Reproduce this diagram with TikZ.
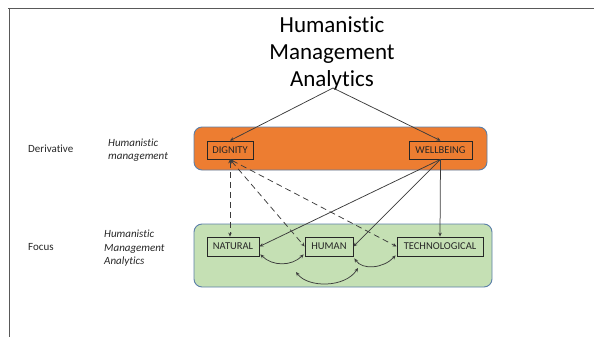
\documentclass[tikz,border=0pt]{standalone}
\usepackage{fontspec}
\setmainfont{Carlito}[Ligatures={NoCommon}]
\usetikzlibrary{arrows.meta,calc}
\definecolor{orangefill}{HTML}{ED7D31}
\definecolor{greenfill}{HTML}{C5E0B4}
\definecolor{panelline}{HTML}{5B7FA8}
\definecolor{ink}{HTML}{262626}
\begin{document}
\begin{tikzpicture}[x=1pt,y=-1pt,
  panel/.style={rounded corners=8pt,draw=panelline,line width=0.9pt},
  itembox/.style={draw=ink,line width=0.8pt,minimum height=18pt,inner sep=1pt,font=\fontsize{10.5}{11}\selectfont,text=ink},
  conn/.style={draw=ink!90,line width=0.75pt,-{Stealth[length=4pt,width=3.5pt]}},
  bconn/.style={draw=ink!90,line width=0.75pt,{Stealth[length=4pt,width=3.5pt]}-{Stealth[length=4pt,width=3.5pt]}},
  dconn/.style={bconn,dash pattern=on 6pt off 4pt},
  sidelabel/.style={font=\fontsize{11}{13.5}\selectfont,text=ink,align=left,anchor=west,inner sep=0pt},
  framelines/.style={draw=black!65,line width=1pt}
]
\useasboundingbox (0,0) rectangle (594,337);
% frame
\draw[framelines] (8,9) -- (594,9);
\draw[framelines] (9,9) -- (9,337);
% panels
\draw[panel,fill=orangefill] (194,127) rectangle (487,170);
\draw[panel,fill=greenfill] (194,224) rectangle (492,287);
% title
\node[align=center,anchor=north,inner sep=0pt,text=black,font=\fontsize{23}{27}\selectfont] (title) at (332,16) {Humanistic\\Management\\Analytics};
\coordinate (apex) at (333,88);
% side labels
\node[sidelabel] (deriv) at (28,149) {Derivative};
\node[sidelabel] (hm) at (108,150) {\itshape Humanistic\\\itshape management};
\node[sidelabel] (focus) at (28,247) {Focus};
\node[sidelabel] (hma) at (104,248.5) {\itshape Humanistic\\\itshape Management\\\itshape Analytics};
% item boxes
\node[itembox,minimum width=46pt] (dig) at (230,150) {DIGNITY};
\node[itembox,minimum width=63pt] (wel) at (440.5,150) {WELLBEING};
\node[itembox,minimum width=52pt,minimum height=19pt] (nat) at (233,246.5) {NATURAL};
\node[itembox,minimum width=48pt,minimum height=19pt] (hum) at (329,246.5) {HUMAN};
\node[itembox,minimum width=86pt,minimum height=19pt] (tech) at (440,246.5) {TECHNOLOGICAL};
% title connectors
\draw[conn] (apex) -- (dig.north);
\draw[conn] (apex) -- (wel.north);
% dashed connectors from dignity
\draw[dconn] (dig.south) -- (dig.south |- nat.north);
\draw[dconn] (dig.south) -- (hum.west);
\draw[dconn] (dig.south) -- (tech.west);
% solid connectors from wellbeing
\draw[conn] (wel.south) -- (nat.east);
\draw[conn] (wel.south) -- (hum.east);
\draw[conn] (wel.south) -- (tech.north);
% curved connectors
\draw[bconn] ($(nat.south east)+(1,-2)$) .. controls +(12,12) and +(-12,12) .. ($(hum.south west)+(-1,-2)$);
\draw[bconn] ($(hum.south east)+(1,2)$) .. controls +(8,12) and +(-12,13) .. ($(tech.south west)+(-1,-1)$);
\draw[bconn] (296,272) .. controls (308,288) and (345,288) .. (358,268);
\end{tikzpicture}
\end{document}
